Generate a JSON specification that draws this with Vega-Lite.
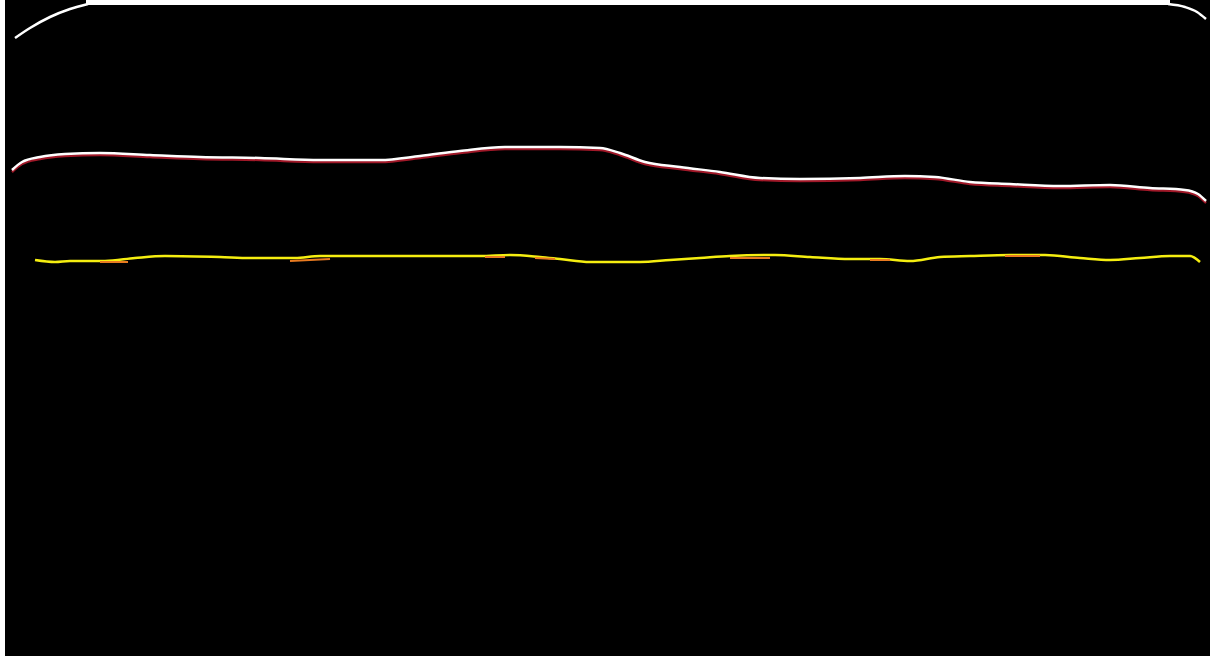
{
  "$schema": "https://vega.github.io/schema/vega-lite/v6.json",
  "width": 1215,
  "height": 656,
  "autosize": {"type": "none"},
  "padding": 0,
  "background": "white",
  "config": {"view": {"stroke": null}},
  "datasets": {
    "frame": [
      {"c": "black", "x": 5, "x2": 1210, "y": 0, "y2": 656},
      {"c": "white", "x": 86, "x2": 1170, "y": 0, "y2": 5}
    ],
    "lines": [
      {"s": "topcurveL", "x": 15, "y": 38},
      {"s": "topcurveL", "x": 30, "y": 28},
      {"s": "topcurveL", "x": 50, "y": 17},
      {"s": "topcurveL", "x": 70, "y": 9},
      {"s": "topcurveL", "x": 88, "y": 4},
      {"s": "topcurveR", "x": 1168, "y": 4},
      {"s": "topcurveR", "x": 1185, "y": 7},
      {"s": "topcurveR", "x": 1197, "y": 12},
      {"s": "topcurveR", "x": 1206, "y": 19},
      {"s": "mid", "x": 12, "y": 170},
      {"s": "mid", "x": 22, "y": 162},
      {"s": "mid", "x": 40, "y": 157},
      {"s": "mid", "x": 65, "y": 154},
      {"s": "mid", "x": 100, "y": 153},
      {"s": "mid", "x": 150, "y": 155},
      {"s": "mid", "x": 200, "y": 157},
      {"s": "mid", "x": 260, "y": 158},
      {"s": "mid", "x": 320, "y": 160},
      {"s": "mid", "x": 380, "y": 160},
      {"s": "mid", "x": 420, "y": 156},
      {"s": "mid", "x": 460, "y": 151},
      {"s": "mid", "x": 505, "y": 147},
      {"s": "mid", "x": 560, "y": 147},
      {"s": "mid", "x": 600, "y": 148},
      {"s": "mid", "x": 620, "y": 153},
      {"s": "mid", "x": 645, "y": 162},
      {"s": "mid", "x": 680, "y": 167},
      {"s": "mid", "x": 720, "y": 172},
      {"s": "mid", "x": 760, "y": 178},
      {"s": "mid", "x": 800, "y": 179},
      {"s": "mid", "x": 860, "y": 178},
      {"s": "mid", "x": 905, "y": 176},
      {"s": "mid", "x": 935, "y": 177},
      {"s": "mid", "x": 970, "y": 182},
      {"s": "mid", "x": 1010, "y": 184},
      {"s": "mid", "x": 1060, "y": 186},
      {"s": "mid", "x": 1110, "y": 185},
      {"s": "mid", "x": 1150, "y": 188},
      {"s": "mid", "x": 1185, "y": 190},
      {"s": "mid", "x": 1198, "y": 194},
      {"s": "mid", "x": 1206, "y": 201},
      {"s": "yel", "x": 35, "y": 260},
      {"s": "yel", "x": 55, "y": 262},
      {"s": "yel", "x": 70, "y": 261},
      {"s": "yel", "x": 105, "y": 261},
      {"s": "yel", "x": 135, "y": 258},
      {"s": "yel", "x": 165, "y": 256},
      {"s": "yel", "x": 220, "y": 257},
      {"s": "yel", "x": 250, "y": 258},
      {"s": "yel", "x": 295, "y": 258},
      {"s": "yel", "x": 320, "y": 256},
      {"s": "yel", "x": 400, "y": 256},
      {"s": "yel", "x": 480, "y": 256},
      {"s": "yel", "x": 510, "y": 255},
      {"s": "yel", "x": 540, "y": 257},
      {"s": "yel", "x": 560, "y": 259},
      {"s": "yel", "x": 590, "y": 262},
      {"s": "yel", "x": 640, "y": 262},
      {"s": "yel", "x": 670, "y": 260},
      {"s": "yel", "x": 700, "y": 258},
      {"s": "yel", "x": 730, "y": 256},
      {"s": "yel", "x": 775, "y": 255},
      {"s": "yel", "x": 810, "y": 257},
      {"s": "yel", "x": 850, "y": 259},
      {"s": "yel", "x": 880, "y": 259},
      {"s": "yel", "x": 910, "y": 261},
      {"s": "yel", "x": 940, "y": 257},
      {"s": "yel", "x": 970, "y": 256},
      {"s": "yel", "x": 1010, "y": 255},
      {"s": "yel", "x": 1045, "y": 255},
      {"s": "yel", "x": 1080, "y": 258},
      {"s": "yel", "x": 1110, "y": 260},
      {"s": "yel", "x": 1140, "y": 258},
      {"s": "yel", "x": 1170, "y": 256},
      {"s": "yel", "x": 1190, "y": 256},
      {"s": "yel", "x": 1200, "y": 262}
    ],
    "orange": [
      {"s": "o1", "x": 100, "y": 262},
      {"s": "o1", "x": 128, "y": 262},
      {"s": "o2", "x": 290, "y": 261},
      {"s": "o2", "x": 330, "y": 259},
      {"s": "o3", "x": 485, "y": 257},
      {"s": "o3", "x": 505, "y": 257},
      {"s": "o4", "x": 535, "y": 258},
      {"s": "o4", "x": 555, "y": 259},
      {"s": "o5", "x": 730, "y": 258},
      {"s": "o5", "x": 770, "y": 258},
      {"s": "o6", "x": 870, "y": 260},
      {"s": "o6", "x": 890, "y": 260},
      {"s": "o7", "x": 1005, "y": 256},
      {"s": "o7", "x": 1040, "y": 256}
    ]
  },
  "encoding": {
    "x": {"field": "x", "type": "quantitative", "scale": {"domain": [0, 1215], "nice": false, "zero": false}, "axis": null},
    "y": {"field": "y", "type": "quantitative", "scale": {"domain": [0, 656], "reverse": true, "nice": false, "zero": false}, "axis": null}
  },
  "layer": [
    {
      "data": {"name": "frame"},
      "mark": {"type": "rect"},
      "encoding": {
        "x2": {"field": "x2"},
        "y2": {"field": "y2"},
        "color": {"field": "c", "type": "nominal", "scale": {"domain": ["black", "white"], "range": ["black", "white"]}, "legend": null}
      }
    },
    {
      "data": {"name": "lines"},
      "transform": [{"filter": "datum.s === 'mid'"}, {"calculate": "datum.y + 2", "as": "yr"}],
      "mark": {"type": "line", "color": "#a01828", "strokeWidth": 2.5, "interpolate": "monotone"},
      "encoding": {"y": {"field": "yr", "type": "quantitative"}}
    },
    {
      "data": {"name": "lines"},
      "transform": [{"filter": "datum.s !== 'yel'"}],
      "mark": {"type": "line", "color": "white", "strokeWidth": 2.5, "interpolate": "monotone"},
      "encoding": {"detail": {"field": "s"}}
    },
    {
      "data": {"name": "lines"},
      "transform": [{"filter": "datum.s === 'yel'"}],
      "mark": {"type": "line", "color": "#f5ee10", "strokeWidth": 2.5, "interpolate": "monotone"},
      "encoding": {}
    },
    {
      "data": {"name": "orange"},
      "mark": {"type": "line", "color": "#e87a20", "strokeWidth": 2},
      "encoding": {"detail": {"field": "s"}}
    }
  ]
}
